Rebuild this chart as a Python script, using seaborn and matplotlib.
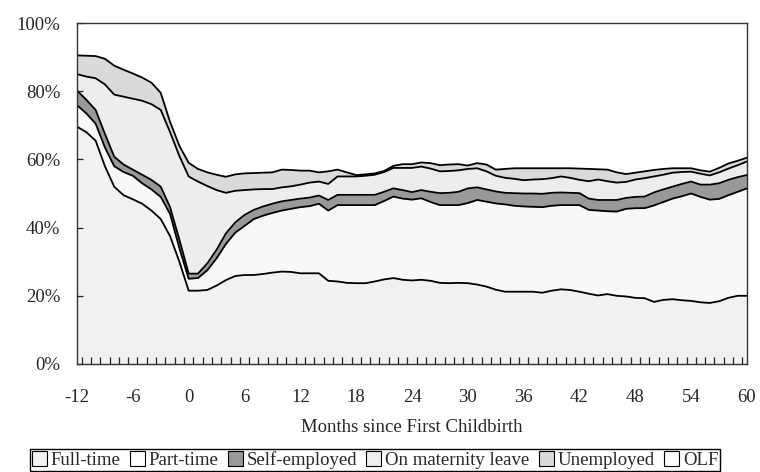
import numpy as np
import pandas as pd
import matplotlib
matplotlib.use("Agg")
import matplotlib.pyplot as plt
from matplotlib.patches import Patch
from matplotlib.ticker import FixedLocator, FuncFormatter
import seaborn as sns

months = list(range(-12, 61))
categories = ["Full-time", "Part-time", "Self-employed", "On maternity leave", "Unemployed", "OLF"]

# cumulative shares (%): top edge of each stacked band
top_fulltime = [69.6, 68, 65.5, 58, 52, 49.5, 48.3, 47, 45, 42.5, 37.5, 30, 21.5,
                21.5, 21.7, 23, 24.6, 25.8, 26.1, 26.1, 26.4, 26.8, 27.1, 27, 26.6,
                26.6, 26.6, 24.4, 24.2, 23.8, 23.7, 23.7, 24.2, 24.8, 25.2, 24.7, 24.5,
                24.7, 24.4, 23.8, 23.7, 23.8, 23.7, 23.3, 22.7, 21.8, 21.2, 21.2, 21.2,
                21.2, 20.9, 21.5, 21.9, 21.7, 21.2, 20.6, 20.1, 20.5, 20.0, 19.8, 19.4,
                19.3, 18.2, 18.8, 19.0, 18.7, 18.5, 18.1, 17.9, 18.4, 19.4, 20.0, 20.0]
top_parttime = [75.9, 73.5, 70.5, 63.5, 58, 56.3, 55.2, 53, 51.2, 49, 44, 34, 25,
                25.2, 27.5, 31, 35.2, 38.5, 40.5, 42.5, 43.5, 44.3, 45, 45.5, 46,
                46.3, 47, 45, 46.6, 46.6, 46.6, 46.6, 46.6, 47.8, 49.1, 48.5, 48.2,
                48.6, 47.5, 46.6, 46.6, 46.6, 47.2, 48.1, 47.6, 47.1, 46.8, 46.4, 46.2,
                46.1, 46, 46.4, 46.6, 46.6, 46.6, 45.2, 45.0, 44.8, 44.7, 45.5, 45.7,
                45.7, 46.5, 47.5, 48.5, 49.2, 50.0, 49.0, 48.2, 48.4, 49.5, 50.5, 51.5]
top_selfemployed = [80.2, 77.5, 74.5, 67.5, 60.8, 58.5, 57, 55.5, 54, 52, 46, 36.5, 26.5,
                    26.5, 29.5, 33.5, 38.3, 41.5, 43.7, 45.2, 46.2, 47, 47.7, 48.1, 48.5,
                    48.8, 49.4, 48.1, 49.6, 49.6, 49.6, 49.6, 49.6, 50.5, 51.5, 51, 50.4,
                    51, 50.5, 50.1, 50.2, 50.5, 51.5, 51.8, 51.2, 50.6, 50.2, 50.1, 50,
                    50, 49.9, 50.2, 50.3, 50.2, 50.1, 48.5, 48.1, 48.1, 48.1, 48.7, 49,
                    49.1, 50.3, 51.2, 52, 52.8, 53.5, 52.6, 52.6, 53, 54, 54.8, 55.4]
top_maternity = [85, 84.3, 83.8, 82, 79, 78.4, 77.8, 77.2, 76.2, 74.5, 68, 61, 55,
                 53.5, 52.2, 51, 50.2, 50.8, 51, 51.2, 51.3, 51.3, 51.8, 52.1, 52.6,
                 53.2, 53.5, 52.8, 55, 55, 55, 55.2, 55.5, 56.3, 57.5, 57.5, 57.5,
                 57.9, 57.3, 56.5, 56.6, 56.8, 57.2, 57.4, 56.5, 55.2, 54.6, 54.3, 53.9,
                 54.1, 54.2, 54.5, 55, 54.6, 54, 53.6, 54.1, 53.6, 53.2, 53.4, 54.1,
                 54.5, 55, 55.5, 56.1, 56.3, 56.4, 55.8, 55.3, 56.2, 57.3, 58.3, 59.4]
top_unemployed = [90.5, 90.4, 90.3, 89.5, 87.5, 86.3, 85.2, 84, 82.5, 79.5, 71, 64, 59,
                  57.2, 56.2, 55.5, 54.9, 55.6, 55.9, 56, 56.1, 56.2, 57, 56.9, 56.7,
                  56.7, 56.2, 56.5, 57, 56.2, 55.4, 55.6, 55.9, 56.6, 58.1, 58.6, 58.6,
                  59.1, 58.9, 58.3, 58.5, 58.6, 58.2, 58.9, 58.5, 57, 57.2, 57.4, 57.4,
                  57.4, 57.4, 57.4, 57.4, 57.4, 57.3, 57.2, 57.1, 57, 56.2, 55.7, 56.1,
                  56.5, 56.9, 57.2, 57.4, 57.4, 57.4, 56.8, 56.4, 57.5, 58.8, 59.6, 60.5]
top_olf = [100] * len(months)

x_ticks = list(range(-12, 61, 6))
y_ticks = [0, 20, 40, 60, 80, 100]

colors = ["#f1f1f1", "#f8f8f8", "#999999", "#ededed", "#dadada", "#ffffff"]
legend_colors = ["#f4f4f4", "#ffffff", "#999999", "#eeeeee", "#dadada", "#ffffff"]

df = pd.DataFrame({"month": months, "b1": top_fulltime, "b2": top_parttime,
                   "b3": top_selfemployed, "b4": top_maternity, "b5": top_unemployed,
                   "b6": top_olf})

sns.set_style("white")
plt.rcParams["font.family"] = ["Liberation Serif", "DejaVu Serif"]
plt.rcParams["axes.unicode_minus"] = False

fig = plt.figure(figsize=(7.6, 4.72), dpi=100)
ax = fig.add_axes([77 / 760, 1 - 364 / 472, 670 / 760, 341 / 472])
ax.set_axisbelow(False)

levels = ["b1", "b2", "b3", "b4", "b5", "b6"]
lower = np.zeros(len(months))
for col, c in zip(levels, colors):
    upper = df[col].to_numpy()
    ax.fill_between(df["month"], lower, upper, color=c, linewidth=0, zorder=1)
    lower = upper

for col in levels[:5]:
    sns.lineplot(data=df, x="month", y=col, ax=ax, color="black", linewidth=1.3, zorder=3)

ax.set_xlim(-12, 60)
ax.set_ylim(0, 100)
ax.set_xticks(x_ticks)
ax.xaxis.set_minor_locator(FixedLocator([m + 0.5 for m in months[:-1]]))
ax.set_yticks(y_ticks)
ax.yaxis.set_major_formatter(FuncFormatter(lambda v, p: f"{int(v)}%"))
ax.tick_params(axis="x", which="major", direction="in", length=0, pad=18, labelsize=13.5,
               bottom=True)
ax.tick_params(axis="x", which="minor", direction="in", length=5, width=0.9, bottom=True,
               color="#222222")
ax.tick_params(axis="y", which="major", direction="in", length=4, width=0.9, pad=12,
               labelsize=13.5, left=True, color="#222222")
ax.set_xlabel("Months since First Childbirth", fontsize=13.5, labelpad=9)
ax.set_ylabel("")
for s in ax.spines.values():
    s.set_visible(True)
    s.set_color("#333333")
    s.set_linewidth(1.0)
    s.set_zorder(4)

handles = [Patch(facecolor=c, edgecolor="black", linewidth=0.8) for c in legend_colors]
fig.legend(handles, categories, loc="upper center", bbox_to_anchor=(375 / 760, 1 - 449 / 472),
           ncol=6, fontsize=13.5, handlelength=0.8, handleheight=0.8, handletextpad=0.2,
           columnspacing=0.5, borderpad=0.12, borderaxespad=0, frameon=True, fancybox=False,
           edgecolor="black", framealpha=1)

fig.savefig("out.png", dpi=100)
